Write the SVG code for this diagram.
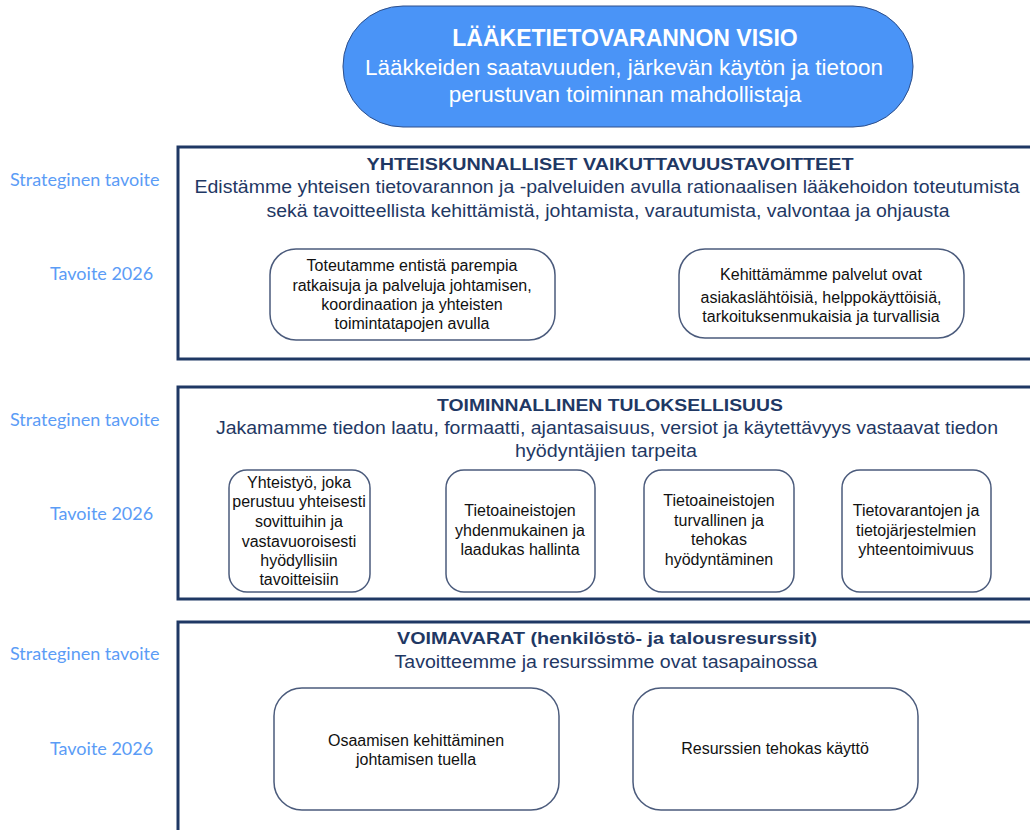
<svg xmlns="http://www.w3.org/2000/svg" width="1030" height="830" viewBox="0 0 1030 830">
  <style>
    .side { font-family: "Lato", "Open Sans", sans-serif; font-size: 18px; fill: #5b9cf6; }
    .frame { fill: #ffffff; stroke: #1f3864; stroke-width: 3; }
    .goal { fill: #ffffff; stroke: #4b5b7c; stroke-width: 1.5; }
    .head { font-family: "Liberation Sans", Arial, sans-serif; font-size: 17px; font-weight: bold; fill: #1f3864; text-anchor: middle; }
    .sub { font-family: "Liberation Sans", Arial, sans-serif; font-size: 17.5px; fill: #1f3864; text-anchor: middle; }
    .txt { font-family: "Liberation Sans", Arial, sans-serif; font-size: 16px; fill: #111111; text-anchor: middle; }
    .vis { font-family: "Liberation Sans", Arial, sans-serif; fill: #ffffff; text-anchor: middle; }
  </style>
  <rect width="1030" height="830" fill="#ffffff"/>

  <!-- vision -->
  <g id="visio">
    <rect x="343" y="6" width="570" height="121" rx="60" fill="#4a94f7" stroke="#2e4f8a" stroke-width="1"/>
    <text class="vis" x="625" y="46" font-size="23" font-weight="bold">LÄÄKETIETOVARANNON VISIO</text>
    <text class="vis" x="624" y="75" font-size="22.5">Lääkkeiden saatavuuden, järkevän käytön ja tietoon</text>
    <text class="vis" x="625" y="102" font-size="22.5">perustuvan toiminnan mahdollistaja</text>
  </g>

  <!-- row labels -->
  <g id="labels">
    <text class="side" x="10" y="186">Strateginen tavoite</text>
    <text class="side" x="50" y="280">Tavoite 2026</text>
    <text class="side" x="10" y="426">Strateginen tavoite</text>
    <text class="side" x="50" y="520">Tavoite 2026</text>
    <text class="side" x="10" y="660">Strateginen tavoite</text>
    <text class="side" x="50" y="755">Tavoite 2026</text>
  </g>

  <!-- section 1 -->
  <g id="vaikuttavuus">
    <rect class="frame" x="178" y="147" width="900" height="212"/>
    <text class="head" x="610" y="170" textLength="487" lengthAdjust="spacingAndGlyphs">YHTEISKUNNALLISET VAIKUTTAVUUSTAVOITTEET</text>
    <text class="sub" x="607" y="193" textLength="825" lengthAdjust="spacingAndGlyphs">Edistämme yhteisen tietovarannon ja -palveluiden avulla rationaalisen lääkehoidon toteutumista</text>
    <text class="sub" x="608" y="217" textLength="683" lengthAdjust="spacingAndGlyphs">sekä tavoitteellista kehittämistä, johtamista, varautumista, valvontaa ja ohjausta</text>
  </g>
  <g id="tavoite-1a">
    <rect class="goal" x="270" y="249" width="285" height="91" rx="26"/>
    <text class="txt" x="412" y="271">Toteutamme entistä parempia</text>
    <text class="txt" x="412" y="291">ratkaisuja ja palveluja johtamisen,</text>
    <text class="txt" x="412" y="310">koordinaation ja yhteisten</text>
    <text class="txt" x="412" y="329">toimintatapojen avulla</text>
  </g>
  <g id="tavoite-1b">
    <rect class="goal" x="679" y="249" width="285" height="89" rx="26"/>
    <text class="txt" x="821" y="280">Kehittämämme palvelut ovat</text>
    <text class="txt" x="821" y="303">asiakaslähtöisiä, helppokäyttöisiä,</text>
    <text class="txt" x="821" y="322">tarkoituksenmukaisia ja turvallisia</text>
  </g>

  <!-- section 2 -->
  <g id="tuloksellisuus">
    <rect class="frame" x="178" y="387" width="900" height="212"/>
    <text class="head" x="610" y="411" textLength="346" lengthAdjust="spacingAndGlyphs">TOIMINNALLINEN TULOKSELLISUUS</text>
    <text class="sub" x="607" y="434" textLength="782" lengthAdjust="spacingAndGlyphs">Jakamamme tiedon laatu, formaatti, ajantasaisuus, versiot ja käytettävyys vastaavat tiedon</text>
    <text class="sub" x="606" y="457" textLength="182" lengthAdjust="spacingAndGlyphs">hyödyntäjien tarpeita</text>
  </g>
  <g id="tavoite-2a">
    <rect class="goal" x="229" y="470" width="141" height="122" rx="18"/>
    <text class="txt" x="299" y="488">Yhteistyö, joka</text>
    <text class="txt" x="299" y="507">perustuu yhteisesti</text>
    <text class="txt" x="299" y="527">sovittuihin ja</text>
    <text class="txt" x="299" y="547">vastavuoroisesti</text>
    <text class="txt" x="299" y="566">hyödyllisiin</text>
    <text class="txt" x="299" y="585">tavoitteisiin</text>
  </g>
  <g id="tavoite-2b">
    <rect class="goal" x="446" y="470" width="149" height="122" rx="18"/>
    <text class="txt" x="520" y="516">Tietoaineistojen</text>
    <text class="txt" x="520" y="536">yhdenmukainen ja</text>
    <text class="txt" x="520" y="555">laadukas hallinta</text>
  </g>
  <g id="tavoite-2c">
    <rect class="goal" x="644" y="470" width="150" height="122" rx="18"/>
    <text class="txt" x="719" y="506">Tietoaineistojen</text>
    <text class="txt" x="719" y="526">turvallinen ja</text>
    <text class="txt" x="719" y="545">tehokas</text>
    <text class="txt" x="719" y="565">hyödyntäminen</text>
  </g>
  <g id="tavoite-2d">
    <rect class="goal" x="842" y="470" width="149" height="122" rx="18"/>
    <text class="txt" x="916" y="516">Tietovarantojen ja</text>
    <text class="txt" x="916" y="536">tietojärjestelmien</text>
    <text class="txt" x="916" y="555">yhteentoimivuus</text>
  </g>

  <!-- section 3 -->
  <g id="voimavarat">
    <rect class="frame" x="178" y="622" width="900" height="240"/>
    <text class="head" x="607" y="644" textLength="420" lengthAdjust="spacingAndGlyphs">VOIMAVARAT (henkilöstö- ja talousresurssit)</text>
    <text class="sub" x="606" y="668" textLength="423" lengthAdjust="spacingAndGlyphs">Tavoitteemme ja resurssimme ovat tasapainossa</text>
  </g>
  <g id="tavoite-3a">
    <rect class="goal" x="274" y="688" width="285" height="122" rx="28"/>
    <text class="txt" x="416" y="746">Osaamisen kehittäminen</text>
    <text class="txt" x="416" y="765">johtamisen tuella</text>
  </g>
  <g id="tavoite-3b">
    <rect class="goal" x="633" y="688" width="285" height="122" rx="28"/>
    <text class="txt" x="775" y="754">Resurssien tehokas käyttö</text>
  </g>
</svg>
